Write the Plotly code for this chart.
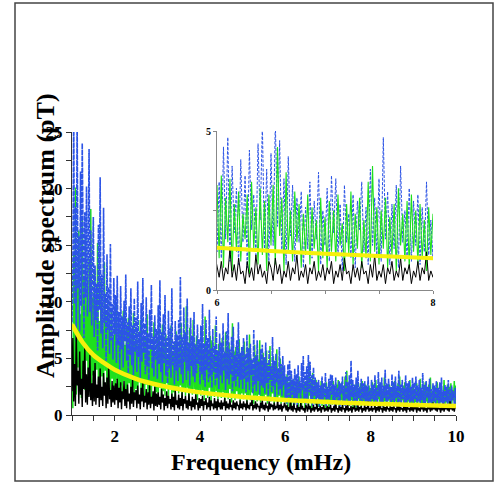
import plotly.graph_objects as go

# Frequency grid of the spectra (mHz)
freq_start = 1.0
freq_step = 0.02
n_points = 451
freq = [round(freq_start + freq_step * i, 2) for i in range(n_points)]

# Amplitude spectrum, station series 1 (blue, dashed), pT
blue_amp = [
    8.2, 12.5, 27.0, 9.8, 18.4, 6.5, 26.5, 11.2, 15.8, 7.4, 21.5, 9.6, 24.0, 13.1, 6.8, 17.9, 10.4, 20.2, 8.7, 14.6, 23.5, 9.1, 16.3, 7.9, 12.8,
    17.5, 6.9, 13.2, 8.4, 11.6, 5.7, 16.8, 9.3, 21.0, 7.2, 12.4, 5.9, 18.3, 8.1, 10.7, 4.8, 14.2, 7.5, 11.3, 5.4, 15.1, 6.6, 9.8, 4.9, 12.1,
    7.1, 10.6, 4.6, 12.3, 6.2, 9.1, 3.9, 11.4, 5.8, 8.7, 4.2, 10.1, 6.5, 12.4, 4.8, 8.2, 3.7, 9.6, 5.3, 11.2, 4.4, 7.9, 3.5, 10.3, 5.6,
    8.6, 3.8, 11.8, 5.1, 7.4, 3.3, 9.9, 4.7, 12.1, 5.5, 8.1, 3.6, 10.4, 4.3, 7.2, 3.1, 9.3, 5.8, 11.5, 4.1, 6.9, 3.4, 8.8, 4.9, 7.6,
    3.2, 9.7, 4.5, 11.9, 3.8, 7.3, 2.9, 8.9, 4.6, 10.6, 3.5, 6.8, 2.8, 9.2, 4.1, 7.7, 3.3, 11.2, 4.4, 6.5, 2.7, 8.3, 3.9, 7.1, 3.0,
    8.4, 4.2, 12.2, 3.6, 6.9, 2.8, 9.5, 4.7, 7.3, 3.1, 10.3, 3.9, 6.4, 2.6, 8.6, 4.3, 7.0, 3.4, 9.1, 2.9, 6.2, 3.7, 8.0, 4.5, 6.7,
    2.7, 7.9, 3.6, 9.8, 3.1, 6.3, 2.5, 8.4, 4.0, 6.8, 2.9, 9.3, 3.4, 5.9, 2.4, 7.6, 3.8, 6.1, 2.6, 8.7, 3.3, 5.7, 2.3, 7.2, 3.5,
    6.4, 2.8, 8.1, 3.9, 5.6, 2.2, 7.4, 3.2, 9.0, 2.7, 5.8, 3.6, 6.9, 2.1, 7.8, 3.0, 5.3, 2.5, 6.6, 3.4, 8.2, 2.4, 5.5, 3.1, 6.0,
    2.3, 6.8, 3.2, 5.4, 2.0, 7.1, 2.9, 5.9, 2.2, 6.3, 3.5, 4.9, 1.9, 7.5, 2.7, 5.2, 2.1, 6.6, 3.0, 4.7, 1.8, 5.8, 2.6, 6.2, 2.4,
    5.1, 1.9, 6.4, 2.8, 4.6, 1.7, 5.7, 3.1, 4.3, 2.0, 6.9, 2.5, 4.8, 1.6, 5.4, 2.9, 4.1, 1.8, 6.0, 2.3, 4.5, 1.7, 5.2, 2.6, 4.4,
    1.2, 3.4, 1.0, 4.5, 1.6, 4.8, 0.9, 3.9, 1.8, 3.2, 0.8, 4.1, 1.5, 3.6, 0.7, 4.4, 1.9, 3.0, 1.1, 4.6, 2.2, 5.2, 1.3, 3.8, 0.9,
    4.3, 1.4, 5.3, 2.0, 4.7, 1.2, 3.5, 0.8, 4.2, 1.7, 3.3, 0.9, 2.9, 1.5, 3.1, 0.7, 2.6, 1.3, 3.4, 1.0, 2.8, 1.6, 3.7, 0.8, 2.5,
    1.4, 3.2, 0.9, 3.6, 1.8, 3.5, 1.1, 2.7, 0.6, 3.3, 1.5, 2.4, 1.0, 3.0, 0.7, 2.8, 1.9, 3.4, 1.2, 2.6, 0.8, 3.8, 1.4, 2.9, 1.1,
    3.5, 0.9, 4.8, 1.6, 3.1, 0.8, 2.7, 1.3, 3.3, 0.7, 3.9, 1.5, 2.5, 1.0, 3.2, 0.9, 2.8, 1.4, 3.0, 0.8, 2.6, 1.2, 3.4, 1.1, 2.2,
    1.0, 3.1, 1.4, 2.7, 0.9, 3.5, 1.3, 2.4, 0.8, 3.8, 1.6, 2.9, 1.1, 3.3, 0.7, 2.6, 1.5, 4.0, 1.2, 2.8, 0.9, 3.2, 1.4, 2.5, 1.0,
    3.6, 1.3, 2.9, 0.8, 3.4, 1.5, 2.6, 1.0, 3.9, 1.2, 2.7, 0.8, 3.1, 1.4, 2.4, 0.9, 3.5, 1.1, 2.8, 1.3, 3.0, 0.7, 2.5, 1.2, 3.3,
    1.0, 2.9, 1.4, 3.4, 0.8, 2.6, 1.2, 3.1, 0.9, 2.4, 1.3, 3.7, 1.0, 2.7, 0.7, 3.0, 1.5, 2.5, 0.9, 3.2, 1.1, 2.3, 0.8, 2.8, 1.2,
    2.6, 0.9, 3.0, 1.3, 2.4, 0.8, 2.9, 1.1, 3.3, 1.0, 2.2, 0.7, 2.7, 1.2, 2.5, 0.9, 3.1, 1.1, 2.3, 0.8, 2.6, 1.3, 2.1, 0.9, 2.4,
    1.0,
]

# Amplitude spectrum, station series 2 (green), pT
green_amp = [
    3.1, 0.6, 14.2, 2.4, 20.1, 1.8, 11.5, 4.2, 16.3, 2.7, 8.9, 1.5, 17.4, 3.6, 12.1, 2.2, 15.6, 4.8, 9.7, 2.0, 13.8, 3.3, 18.2, 2.6, 10.4,
    3.5, 12.7, 2.1, 9.6, 4.0, 15.2, 2.8, 8.3, 1.7, 11.9, 3.4, 7.6, 2.3, 13.5, 3.9, 8.8, 1.9, 10.2, 2.9, 7.1, 1.6, 9.4, 3.2, 6.8, 2.5,
    8.5, 2.2, 9.9, 3.1, 6.7, 1.8, 8.1, 2.6, 7.4, 1.5, 9.2, 3.0, 6.2, 2.0, 7.8, 1.7, 8.6, 2.8, 5.9, 1.6, 7.3, 2.4, 9.0, 1.9, 6.5,
    2.3, 7.7, 1.6, 6.1, 2.9, 8.4, 1.8, 5.8, 2.5, 7.0, 1.4, 6.6, 2.7, 8.9, 1.9, 5.6, 2.2, 7.3, 1.5, 6.0, 2.6, 8.2, 1.7, 5.4, 2.0,
    6.9, 1.8, 7.6, 2.4, 5.7, 1.5, 8.0, 2.1, 6.2, 1.7, 7.1, 2.8, 5.3, 1.4, 6.8, 2.3, 7.9, 1.6, 5.5, 2.0, 6.4, 1.3, 7.4, 2.5, 5.9,
    1.9, 6.6, 2.6, 8.1, 1.5, 5.8, 2.2, 7.2, 1.7, 9.6, 2.4, 6.0, 1.4, 7.7, 2.0, 5.5, 1.8, 8.4, 2.3, 6.3, 1.6, 7.0, 1.3, 5.9, 2.1,
    6.1, 1.7, 7.5, 2.2, 5.4, 1.3, 8.7, 2.0, 6.2, 1.5, 5.8, 2.4, 7.0, 1.2, 6.6, 1.9, 5.2, 1.6, 7.9, 2.1, 5.7, 1.4, 6.3, 1.8, 5.0,
    1.5, 6.8, 2.0, 5.3, 1.2, 7.3, 1.8, 5.9, 1.4, 6.4, 2.3, 4.9, 1.1, 8.1, 1.7, 5.6, 1.3, 6.0, 2.1, 4.8, 1.5, 6.7, 1.2, 5.4, 1.9,
    5.8, 1.4, 6.5, 1.9, 4.7, 1.1, 5.9, 1.6, 7.1, 1.3, 5.0, 2.0, 4.5, 1.0, 6.2, 1.7, 5.3, 1.2, 4.9, 1.8, 6.6, 1.1, 4.6, 1.5, 5.5,
    1.3, 4.8, 1.8, 5.7, 1.0, 4.4, 1.6, 6.1, 1.2, 4.2, 1.9, 5.2, 0.9, 4.6, 1.4, 5.8, 1.1, 4.0, 1.7, 5.0, 1.0, 4.3, 1.5, 3.9, 1.2,
    3.3, 1.0, 3.6, 0.7, 2.9, 1.5, 3.5, 0.6, 2.7, 1.2, 3.1, 0.9, 2.4, 1.6, 3.0, 0.5, 3.4, 1.3, 2.6, 0.8, 3.2, 1.1, 2.8, 0.6, 3.0,
    1.4, 3.3, 0.8, 4.5, 1.7, 2.9, 0.6, 3.7, 1.2, 2.5, 0.9, 3.1, 1.5, 2.7, 0.7, 2.4, 1.1, 3.0, 0.8, 2.6, 1.3, 2.2, 0.6, 2.9, 1.0,
    2.3, 0.7, 2.8, 1.2, 2.5, 0.9, 3.0, 1.4, 2.1, 0.6, 2.7, 1.1, 3.1, 0.8, 2.4, 1.3, 2.9, 0.7, 2.2, 1.0, 3.4, 0.9, 3.9, 1.2, 2.6,
    0.8, 2.5, 1.3, 2.9, 0.7, 2.3, 1.1, 2.7, 0.6, 3.2, 1.4, 2.4, 0.9, 2.8, 0.7, 3.0, 1.2, 2.5, 0.8, 2.7, 1.0, 2.2, 0.6, 2.6, 1.1,
    2.4, 0.8, 2.9, 1.2, 2.2, 0.7, 3.1, 1.0, 2.6, 1.4, 2.3, 0.8, 2.8, 1.1, 2.0, 0.6, 3.3, 1.2, 2.5, 0.9, 2.1, 1.3, 2.7, 0.7, 2.4,
    1.0, 2.6, 0.8, 3.0, 1.2, 2.2, 0.7, 2.8, 1.1, 3.4, 0.9, 2.3, 1.3, 2.6, 0.6, 2.9, 1.0, 2.1, 0.8, 2.7, 1.2, 3.1, 0.7, 2.4, 1.0,
    2.5, 0.9, 2.2, 1.1, 2.8, 0.7, 2.4, 1.3, 3.2, 0.8, 2.0, 1.0, 2.6, 0.6, 2.9, 1.2, 2.3, 0.8, 2.7, 1.1, 3.3, 0.9, 2.1, 0.7, 2.5,
    1.1, 2.4, 0.8, 2.9, 1.0, 2.2, 0.7, 2.6, 1.2, 2.0, 0.9, 3.1, 0.8, 2.3, 1.1, 2.7, 0.6, 2.5, 1.0, 2.8, 0.9, 2.2, 1.3, 3.0, 0.8,
    2.6,
]

# Amplitude spectrum, reference series (black), pT
black_amp = [
    2.1, 6.8, 1.2, 4.5, 0.8, 7.3, 2.6, 3.9, 1.0, 5.6, 1.8, 3.2, 0.7, 4.8, 2.3, 6.1, 1.1, 3.6, 0.9, 4.2, 1.6, 5.3, 1.3, 2.8, 0.8,
    3.9, 1.2, 4.6, 0.9, 2.7, 1.5, 3.4, 0.7, 4.1, 1.3, 2.5, 0.8, 3.7, 1.7, 2.9, 0.6, 3.3, 1.0, 4.4, 1.4, 2.2, 0.7, 3.0, 1.1, 2.6,
    0.9, 2.8, 1.3, 3.2, 0.6, 2.4, 1.1, 2.9, 0.5, 2.1, 1.4, 3.0, 0.8, 2.3, 0.6, 2.7, 1.2, 1.9, 0.5, 2.5, 1.0, 3.1, 0.7, 2.0, 1.3,
    2.2, 0.6, 2.6, 1.0, 1.8, 0.5, 2.4, 1.2, 2.9, 0.7, 1.7, 1.1, 2.3, 0.5, 2.0, 0.9, 2.7, 0.6, 1.6, 1.0, 2.1, 0.4, 2.5, 0.8, 1.9,
    0.7, 2.0, 0.9, 1.6, 0.5, 2.3, 1.1, 1.8, 0.4, 1.5, 0.8, 2.1, 0.6, 1.7, 1.0, 1.4, 0.5, 1.9, 0.7, 1.6, 0.4, 2.2, 0.9, 1.3, 0.6,
    1.8, 0.5, 1.5, 0.8, 2.0, 0.4, 1.4, 1.0, 1.7, 0.6, 1.3, 0.5, 1.9, 0.8, 1.2, 0.4, 1.6, 0.7, 1.4, 0.5, 1.8, 0.9, 1.1, 0.4, 1.5,
    0.6, 1.4, 0.8, 1.7, 0.4, 1.2, 0.9, 1.5, 0.5, 1.1, 0.7, 1.6, 0.4, 1.3, 0.8, 1.0, 0.5, 1.5, 0.6, 1.2, 0.4, 1.4, 0.7, 1.1, 0.5,
    1.3, 0.5, 1.1, 0.8, 1.5, 0.4, 1.2, 0.6, 1.0, 0.5, 1.4, 0.7, 0.9, 0.4, 1.3, 0.6, 1.1, 0.5, 1.2, 0.8, 0.9, 0.4, 1.3, 0.6, 1.0,
    0.5, 1.2, 0.7, 1.0, 0.4, 1.3, 0.6, 0.9, 0.5, 1.1, 0.8, 1.4, 0.4, 0.9, 0.6, 1.2, 0.5, 1.0, 0.7, 0.8, 0.3, 1.1, 0.6, 1.3, 0.5,
    0.9, 0.4, 1.1, 0.6, 0.8, 0.3, 1.2, 0.5, 1.0, 0.7, 0.9, 0.4, 1.1, 0.5, 0.8, 0.6, 1.3, 0.4, 0.9, 0.5, 1.0, 0.3, 0.8, 0.6, 1.1,
    0.8, 0.4, 0.9, 0.3, 0.7, 0.5, 1.3, 0.4, 0.8, 0.3, 1.0, 0.5, 0.6, 0.2, 0.9, 0.4, 0.7, 0.3, 1.1, 0.5, 0.8, 0.4, 0.6, 0.2, 0.9,
    0.7, 0.3, 1.0, 0.5, 0.8, 0.2, 0.6, 0.4, 0.9, 0.3, 0.7, 0.5, 1.1, 0.3, 0.6, 0.4, 0.8, 0.2, 0.7, 0.5, 0.9, 0.3, 0.6, 0.4, 0.8,
    0.3, 0.7, 0.5, 0.9, 0.2, 0.6, 0.4, 0.8, 0.3, 1.0, 0.5, 0.6, 0.2, 0.8, 0.4, 0.7, 0.3, 0.9, 0.5, 0.6, 0.2, 0.8, 0.4, 1.1, 0.3,
    0.6, 0.4, 0.8, 0.2, 0.7, 0.5, 0.9, 0.3, 0.6, 0.4, 1.0, 0.3, 0.7, 0.5, 0.8, 0.2, 0.6, 0.4, 0.9, 0.3, 0.7, 0.5, 1.2, 0.3, 0.6,
    0.4, 0.8, 0.3, 0.6, 0.5, 0.9, 0.2, 0.7, 0.4, 0.8, 0.3, 1.0, 0.5, 0.6, 0.2, 0.8, 0.4, 0.7, 0.3, 0.9, 0.5, 0.6, 0.3, 0.8, 0.4,
    0.7, 0.3, 0.9, 0.5, 0.6, 0.2, 0.8, 0.4, 1.0, 0.3, 0.7, 0.5, 0.6, 0.3, 0.9, 0.4, 0.7, 0.2, 0.8, 0.5, 0.6, 0.3, 0.9, 0.4, 0.7,
    0.3, 0.8, 0.5, 0.7, 0.2, 0.9, 0.4, 0.6, 0.3, 1.0, 0.5, 0.7, 0.3, 0.8, 0.4, 0.6, 0.2, 0.9, 0.5, 0.7, 0.3, 0.8, 0.4, 1.1, 0.5,
    0.8, 0.4, 0.7, 0.3, 0.9, 0.5, 0.6, 0.2, 0.8, 0.4, 1.0, 0.3, 0.7, 0.5, 0.9, 0.4, 0.6, 0.3, 1.2, 0.5, 0.7, 0.4, 0.9, 0.3, 0.8,
    0.6,
]

# Smooth background trend (yellow)
trend_freq = [1.0, 1.25, 1.5, 1.75, 2.0, 2.5, 3.0, 3.5, 4.0, 4.5, 5.0, 5.5, 6.0, 6.5, 7.0, 7.5, 8.0, 8.5, 9.0, 9.5, 10.0]
trend_amp = [8.0, 6.4, 5.3, 4.6, 4.0, 3.2, 2.67, 2.29, 2.0, 1.78, 1.6, 1.45, 1.33, 1.23, 1.14, 1.07, 1.0, 0.94, 0.89, 0.84, 0.8]

# Axis ticks
main_x_ticks = [1 + 0.5 * k for k in range(19)]
main_x_text = [("%g" % v) if v in (2, 4, 6, 8, 10) else "" for v in main_x_ticks]
main_y_ticks = [2.5 * k for k in range(11)]
main_y_text = [("%g" % v) if v % 5 == 0 else "" for v in main_y_ticks]
inset_x_ticks = [6, 6.5, 7, 7.5, 8]
inset_x_text = ["6", "", "", "", "8"]
inset_y_ticks = [0, 2.5, 5]
inset_y_text = ["0", "", "5"]

BLUE = "rgb(44,84,230)"
GREEN = "rgb(30,224,30)"
BLACK = "rgb(0,0,0)"
YELLOW = "rgb(246,240,12)"


def blue_trace(xa, ya, width, dash):
    return go.Scatter(x=freq, y=blue_amp, mode="lines", xaxis=xa, yaxis=ya,
                      line=dict(color=BLUE, width=width, dash=dash))


def green_trace(xa, ya, width):
    return go.Scatter(x=freq, y=green_amp, mode="lines", xaxis=xa, yaxis=ya,
                      line=dict(color=GREEN, width=width))


def black_trace(xa, ya, width):
    return go.Scatter(x=freq, y=black_amp, mode="lines", xaxis=xa, yaxis=ya,
                      line=dict(color=BLACK, width=width))


def trend_trace(xa, ya, width):
    return go.Scatter(x=trend_freq, y=trend_amp, mode="lines", xaxis=xa, yaxis=ya,
                      line=dict(color=YELLOW, width=width, shape="spline"))


fig = go.Figure()

# main panel: green underneath the dense blue spectrum
fig.add_trace(green_trace("x", "y", 1.5))
fig.add_trace(blue_trace("x", "y", 1.6, "5px,1px"))
fig.add_trace(black_trace("x", "y", 1.4))
fig.add_trace(trend_trace("x", "y", 4.5))

# inset panel (6-8 mHz)
fig.add_trace(blue_trace("x2", "y2", 1, "3px,1.5px"))
fig.add_trace(green_trace("x2", "y2", 1.1))
fig.add_trace(black_trace("x2", "y2", 1))
fig.add_trace(trend_trace("x2", "y2", 4))

W, H = 497, 483
serif = "Liberation Serif"
tick_main = dict(family=serif, size=17, color="black", weight="bold")
tick_inset = dict(family=serif, size=10, color="black", weight="bold")

common = dict(showgrid=False, zeroline=False, showline=True, ticks="outside",
              automargin=False)

fig.update_layout(
    template="none",
    width=W, height=H, autosize=False,
    margin=dict(l=0, r=0, t=0, b=0, pad=0, autoexpand=False),
    paper_bgcolor="white", plot_bgcolor="rgba(0,0,0,0)",
    showlegend=False,
    xaxis=dict(domain=[72 / W, 456 / W], range=[1, 10], linecolor="#333", linewidth=1.2,
               ticklen=5, tickcolor="#333", tickvals=main_x_ticks, ticktext=main_x_text,
               tickfont=tick_main, anchor="y", **common),
    yaxis=dict(domain=[(H - 415) / H, (H - 132) / H], range=[0, 25], linecolor="#333",
               linewidth=1.2, ticklen=5, tickcolor="#333", tickvals=main_y_ticks,
               ticktext=main_y_text, tickfont=tick_main, anchor="x", **common),
    xaxis2=dict(domain=[217 / W, 433 / W], range=[6, 8], linecolor="#888", linewidth=1,
                ticklen=3, tickcolor="#888", tickvals=inset_x_ticks, ticktext=inset_x_text,
                tickfont=tick_inset, anchor="y2", **common),
    yaxis2=dict(domain=[(H - 290) / H, (H - 131) / H], range=[0, 5], linecolor="#888",
                linewidth=1, ticklen=3, tickcolor="#888", tickvals=inset_y_ticks,
                ticktext=inset_y_text, tickfont=tick_inset, anchor="x2", **common),
    shapes=[dict(type="rect", xref="paper", yref="paper",
                 x0=15 / W, x1=493 / W, y0=2 / H, y1=(H - 3) / H,
                 line=dict(color="#444", width=1.5))],
    annotations=[
        dict(text="Amplitude spectrum (pT)", xref="paper", yref="paper",
             x=45 / W, y=(H - 236) / H, textangle=-90, showarrow=False,
             xanchor="center", yanchor="middle",
             font=dict(family=serif, size=26, color="black", weight="bold")),
        dict(text="Frequency (mHz)", xref="paper", yref="paper",
             x=261 / W, y=(H - 462) / H, showarrow=False,
             xanchor="center", yanchor="middle",
             font=dict(family=serif, size=24, color="black", weight="bold")),
    ],
)

fig.write_html("out.html")
